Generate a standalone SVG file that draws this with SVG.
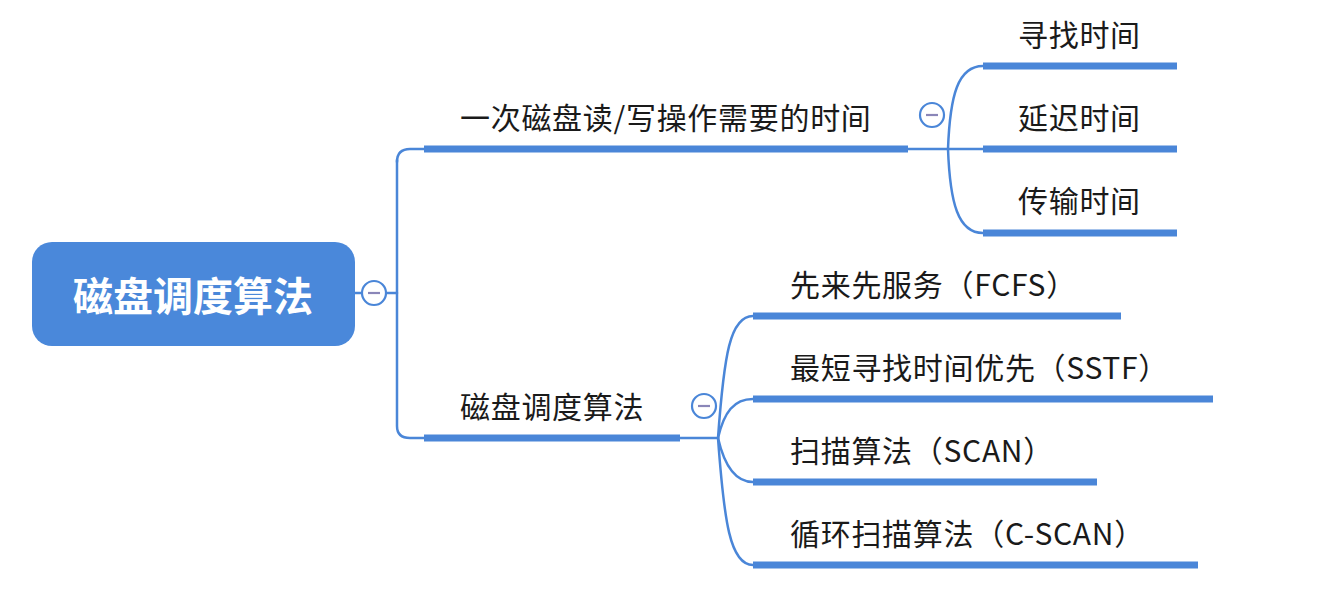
<svg xmlns="http://www.w3.org/2000/svg" width="1325" height="590" viewBox="0 0 1325 590">
<style>
.conn{fill:none;stroke:#4a86d8;stroke-width:2.5;stroke-linecap:round}
.ul{stroke:#4a86d8;stroke-width:7}
.lbl{font-family:"Noto Sans CJK SC","Liberation Sans",sans-serif;font-size:30px;letter-spacing:0.7px;fill:#1a1a1a}
.root{font-family:"Noto Sans CJK SC","Liberation Sans",sans-serif;font-size:40px;font-weight:bold;fill:#ffffff}
.tog circle{fill:#ffffff;stroke:#4a86d8;stroke-width:2.2}
.tog line{stroke:#8a86b8;stroke-width:2.2}
</style>
<rect width="1325" height="590" fill="#ffffff"/>
<g id="connectors">
<path class="conn" d="M355,293 L362,293"/>
<path class="conn" d="M386,293 L397,293"/>
<path class="conn" d="M397,162 Q397,149 410,149 L424,149"/>
<path class="conn" d="M397,160 L397,426 Q397,438 410,438 L424,438"/>
<path class="conn" d="M908,149 L983,149"/>
<path class="conn" d="M948,149 C950,95 958,66 983,66"/>
<path class="conn" d="M948,149 C950,203 958,233 983,233"/>
<path class="conn" d="M680,438 L718,438"/>
<path class="conn" d="M718,438 C724,355 730,316 753,316"/>
<path class="conn" d="M718,438 C724,412 734,399 753,399"/>
<path class="conn" d="M718,438 C724,464 734,482 753,482"/>
<path class="conn" d="M718,438 C724,521 730,565 753,565"/>
</g>
<g id="root">
<rect x="32" y="242" width="323" height="104" rx="20" fill="#4a88da"/>
<text class="root" x="193" y="311" text-anchor="middle">磁盘调度算法</text>
<g class="tog"><circle cx="374" cy="293" r="12"/><line x1="368" y1="293" x2="380" y2="293"/></g>
</g>
<g id="n-time">
<line class="ul" x1="424" y1="149" x2="908" y2="149"/>
<text class="lbl" x="460" y="129">一次磁盘读/写操作需要的时间</text>
<g class="tog"><circle cx="932" cy="115" r="12"/><line x1="926" y1="115" x2="938" y2="115"/></g>
</g>
<g id="n-seek">
<line class="ul" x1="983" y1="66" x2="1177" y2="66"/>
<text class="lbl" x="1018" y="46">寻找时间</text>
</g>
<g id="n-delay">
<line class="ul" x1="983" y1="149" x2="1177" y2="149"/>
<text class="lbl" x="1018" y="129">延迟时间</text>
</g>
<g id="n-transfer">
<line class="ul" x1="983" y1="233" x2="1177" y2="233"/>
<text class="lbl" x="1018" y="212">传输时间</text>
</g>
<g id="n-sched">
<line class="ul" x1="424" y1="438" x2="680" y2="438"/>
<text class="lbl" x="460" y="418">磁盘调度算法</text>
<g class="tog"><circle cx="704" cy="406" r="12"/><line x1="698" y1="406" x2="710" y2="406"/></g>
</g>
<g id="n-fcfs">
<line class="ul" x1="753" y1="316" x2="1121" y2="316"/>
<text class="lbl" x="790" y="296">先来先服务（FCFS）</text>
</g>
<g id="n-sstf">
<line class="ul" x1="753" y1="399" x2="1213" y2="399"/>
<text class="lbl" x="790" y="379">最短寻找时间优先（SSTF）</text>
</g>
<g id="n-scan">
<line class="ul" x1="753" y1="482" x2="1097" y2="482"/>
<text class="lbl" x="790" y="462">扫描算法（SCAN）</text>
</g>
<g id="n-cscan">
<line class="ul" x1="753" y1="565" x2="1198" y2="565"/>
<text class="lbl" x="790" y="545">循环扫描算法（C-SCAN）</text>
</g>
</svg>
